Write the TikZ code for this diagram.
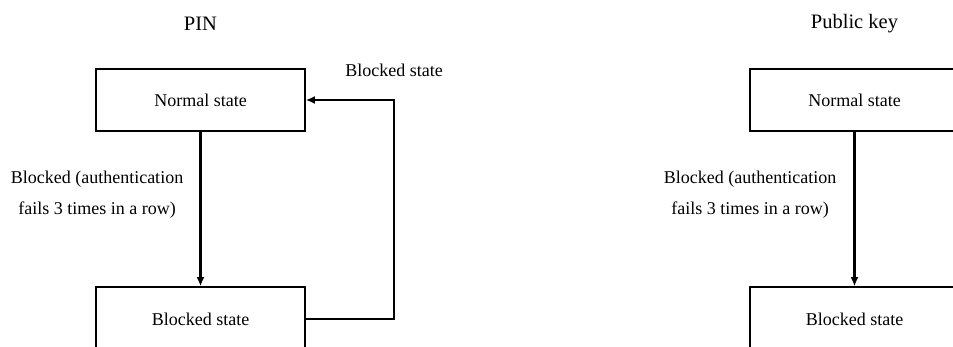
\documentclass[tikz,border=0pt]{standalone}
\usepackage{fontspec}
\setmainfont{Liberation Serif}
\usetikzlibrary{arrows.meta,positioning}

\begin{document}
\begin{tikzpicture}[x=1pt, y=-1pt,
  statebox/.style={draw=black, line width=1.6pt, minimum width=209pt, minimum height=62pt, inner sep=0pt, font=\fontsize{18}{22}\selectfont},
  flow/.style={line width=2.2pt, -{Latex[length=9pt,width=8pt]}},
  title/.style={font=\fontsize{20.5}{24}\selectfont},
  cond/.style={align=center, font=\fontsize{18}{31}\selectfont}]
\useasboundingbox (0,0) rectangle (953,347);
\clip (0,0) rectangle (953,347);
% PIN
\node[title] (pintitle) at (200.5,24) {PIN};
\node[statebox] (pinnormal) at (200.5,100) {Normal state};
\node[statebox, minimum height=64pt] (pinblocked) at (200.5,319) {Blocked state};
\draw[flow] (pinnormal) -- (pinblocked);
\node[cond] (pincond) at (97,195) {Blocked (authentication\\fails 3 times in a row)};
\draw[flow] (pinblocked.east) -- ++(88,0) |- (pinnormal.east);
\node[font=\fontsize{18}{22}\selectfont] (pinback) at (394,70) {Blocked state};
% Public key
\node[title] (keytitle) at (854.5,24) {Public key};
\node[statebox] (keynormal) at (854.5,100) {Normal state};
\node[statebox, minimum height=64pt] (keyblocked) at (854.5,319) {Blocked state};
\draw[flow] (keynormal) -- (keyblocked);
\node[cond] (keycond) at (750,195) {Blocked (authentication\\fails 3 times in a row)};
\end{tikzpicture}
\end{document}
